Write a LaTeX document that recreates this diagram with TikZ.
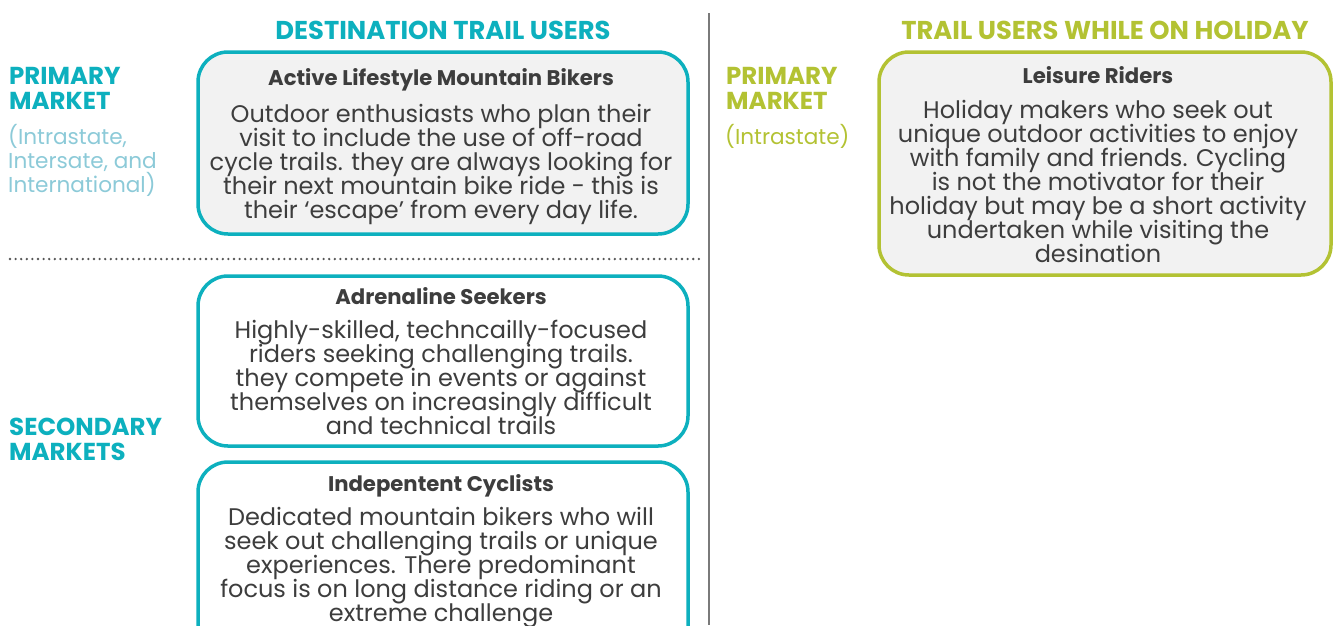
\documentclass[tikz,border=0pt]{standalone}
\usepackage{fontspec}
\setmainfont{Poppins}
\definecolor{teal1}{HTML}{0DB0BE}
\definecolor{lteal}{HTML}{8CCAD8}
\definecolor{olive1}{HTML}{B3C233}
\definecolor{dtext}{HTML}{3D3D3D}
\definecolor{boxfill}{HTML}{F2F2F2}
\definecolor{vline}{HTML}{7A7A7A}
\definecolor{dotc}{HTML}{555555}
\newcommand{\mytightlines}{\lineskiplimit=-20pt\relax}
\tikzset{
  segbox/.style={draw=#1, line width=3.5pt, rounded corners=30pt, inner sep=0pt},
  heading/.style={font=\fontsize{25.8}{28}\selectfont\bfseries, anchor=base, inner sep=0pt},
  mkt/.style={font=\fontsize{24.5}{25}\selectfont\bfseries\mytightlines, align=left, anchor=north west, inner sep=0pt},
  mktsub/.style={font=\fontsize{21.6}{24}\selectfont\mytightlines, align=left, anchor=north west, inner sep=0pt},
  btitle/.style={font=\fontsize{21.2}{22}\selectfont\bfseries, text=dtext, anchor=base, inner sep=0pt},
  bbody/.style={font=\fontsize{24}{24}\selectfont\mytightlines, text=dtext, align=center, anchor=north, inner sep=0pt},
}
\begin{document}
\begin{tikzpicture}[x=1pt,y=-1pt]
\useasboundingbox (0,0) rectangle (1338,625);
\begin{scope}
\clip (0,0) rectangle (1338,625);
% divider lines
\coordinate (vtop) at (709,13);
\coordinate (vbot) at (709,625);
\draw[vline, line width=2pt] (vtop) -- (vbot);
\coordinate (dl) at (10,259);
\coordinate (dr) at (700,259);
\draw[dotc, line width=2.6pt, line cap=round, dash pattern=on 0pt off 5.6pt] (dl) -- (dr);

% headings
\node[heading, text=teal1] (h1) at (443,39) {DESTINATION TRAIL USERS};
\node[heading, text=olive1] (h2) at (1105,39) {TRAIL USERS WHILE ON HOLIDAY};

% left labels
\node[mkt, text=teal1] (pm1) at (9,67) {PRIMARY\\MARKET};
\node[mktsub, text=lteal] (pm1s) at (8,124) {(Intrastate,\\Intersate, and\\International)};
\node[mkt, text=teal1] (sm) at (9,418) {SECONDARY\\MARKETS};
\node[mkt, text=olive1] (pm2) at (726,67) {PRIMARY\\MARKET};
\node[mktsub, text=olive1] (pm2s) at (725,124) {(Intrastate)};

% boxes
\draw[segbox=teal1, fill=boxfill] (198,52) rectangle (688,234);
\node (b1) at (443,143) {};
\draw[segbox=teal1, fill=white] (198,276) rectangle (688,446);
\node (b2) at (443,361) {};
\draw[segbox=teal1, fill=white] (198,462) rectangle (688,660);
\node (b3) at (443,560) {};
\draw[segbox=olive1, fill=boxfill] (879,52) rectangle (1331,275);
\node (b4) at (1105,163) {};

% box texts
\node[btitle] (t1) at (441,85) {Active Lifestyle Mountain Bikers};
\node[bbody] (d1) at (441,104) {Outdoor enthusiasts who plan their\\visit to include the use of off-road\\cycle trails. they are always looking for\\their next mountain bike ride - this is\\their ‘escape’ from every day life.};

\node[btitle] (t2) at (441,304) {Adrenaline Seekers};
\node[bbody] (d2) at (441,320) {Highly-skilled, techncailly-focused\\riders seeking challenging trails.\\they compete in events or against\\themselves on increasingly difficult\\and technical trails};

\node[btitle] (t3) at (441,491) {Indepentent Cyclists};
\node[bbody] (d3) at (441,507) {Dedicated mountain bikers who will\\seek out challenging trails or unique\\experiences. There predominant\\focus is on long distance riding or an\\extreme challenge};

\node[btitle] (t4) at (1098,83) {Leisure Riders};
\node[bbody] (d4) at (1098,100) {Holiday makers who seek out\\unique outdoor activities to enjoy\\with family and friends. Cycling\\is not the motivator for their\\holiday but may be a short activity\\undertaken while visiting the\\desination};
\end{scope}
\end{tikzpicture}
\end{document}
